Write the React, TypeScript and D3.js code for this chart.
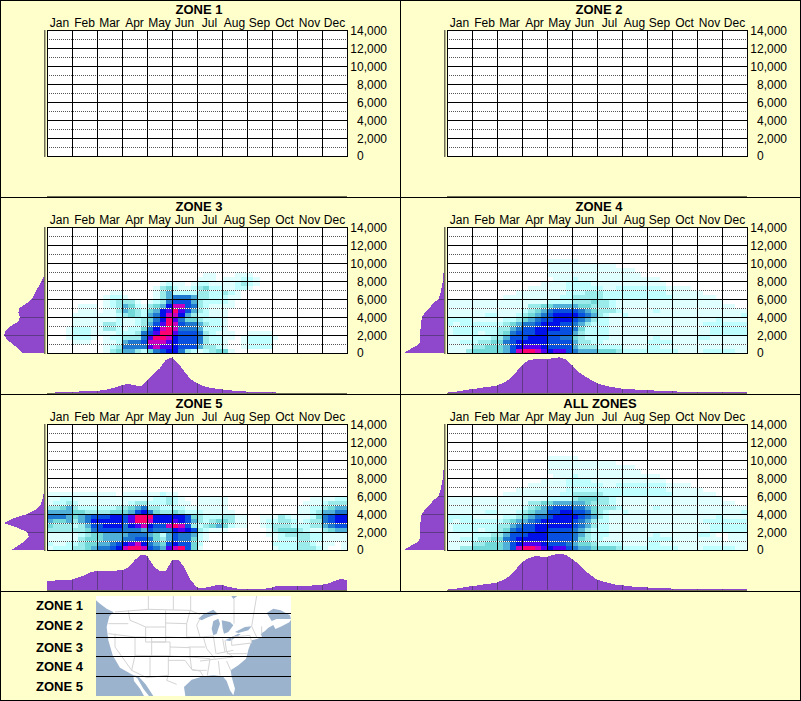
import React from "react";
import * as d3 from "d3";

const months = ["Jan","Feb","Mar","Apr","May","Jun","Jul","Aug","Sep","Oct","Nov","Dec"];
const elevationTicks = [0,2000,4000,6000,8000,10000,12000,14000];
const dottedTicks = [1000,3000,5000,7000,9000,11000,13000];
const levelColors = ["#FFFFFF","#E0FFFF","#BFFFFF","#9CEBEB","#72D8D8","#50B0D8","#1E78D0","#0850E0","#0010E8","#5000F0","#C800C0","#FF0070"];

// Heat levels, one string per 500 ft band from the ground up, 48 quarter-month columns.
const zone3Heat = [
  "000000000 134553246788632123441",
  "000000000 12366669a99877753321 00 12222",
  "0000111001 125667aaa9877763221 00 12222",
  "000122210 12233369bba87776322110 122221",
  "000122211 112223679bb97776321110 0 1111",
  "000122211 332122468aba66652221",
  "000011111 3321123579ba 76653221",
  "000011111 1121123468b9 64432221",
  "00001111 11123432568aa85322111",
  "00000111 0 11354324589b97532111",
  "00000111 0 12354213458aa76321111",
  "000000000 123331012367775322221",
  "000000000 1221000013566653322211",
  "0000000000 11 00000 13522223322321",
  "00000000000000000 1342112342211221",
  "000000000000000000 1211012211112321",
  "000000000000000000000000 1110111221",
  "0000000000000000000000000 11000 111",
];
const zone4Heat = [
  "1113 4444 457a bba9 8997 6555 4443 2222 2222 2111 1222 2211",
  "1111 3344 4578 9998 7777 5333 2222 1111 2211 1111 1111 1111",
  "1122 2334 4678 8888 7777 5332 2111 1111 2222 1111 1111 1111",
  "1111 2223 3577 7888 7766 4322 2211 1111 1211 1111 2211 1111",
  "1222 2122 3467 7788 7777 5322 2211 1111 1111 1111 1122 2222",
  "1222 2222 3356 7788 8877 6422 2211 1111 1111 1111 1122 2222",
  "2122 2222 2345 6678 8877 6532 2211 1111 1111 1111 1222 2222",
  "2222 1111 1223 4567 7888 7653 2211 1111 1111 1111 1112 1111",
  "1111 1122 1112 3456 7888 8765 3211 2111 1111 1111 1111 1112",
  "1111 1111 1111 2345 6777 7654 3332 1111 1211 1111 1111 1111",
  "1111 1111 1111 1334 4555 5443 3321 1111 1111 1111 1111 1100",
  "1111 1111 1111 1111 2222 3334 3321 1111 1111 1111 1111 0000",
  "0000 0000 0111 1111 1122 3333 3222 2222 2222 1111 1110 0000",
  "0000 0000 0001 1111 1112 2233 3222 2222 2221 1111 1000 0000",
  "0000 0000 0000 0111 1112 2222 2112 2222 2221 1110 0000 0000",
  "0000 0000 0000 0001 1112 2221 1111 1111 1110",
  "0000 0000 0000 0000 0111 2111 1111 1111 1100",
  "0000 0000 0000 0000 1111 1111 1111 1110",
  "0000 0000 0000 0000 1111 1111 1111 1100",
  "0000 0000 0000 0000 1111 1111 1110",
  "0000 0000 0000 0000 1111 1",
];
const zone5Heat = [
  "1222 3345 6678 abba 7659 ab74 1000 0000 0000 1222 3332 1001",
  "2112 2344 5567 89a8 6547 8774 2000 0000 0000 2222 3321 1101",
  "1111 1344 4555 6677 6435 7664 2100 0000 0000 1222 3322 1111",
  "1111 1234 4555 5666 5425 7665 2100 0000 0001 1233 3322 1111",
  "3333 3346 7777 6665 7666 8987 3211 1000 0001 3444 3211 3455",
  "4333 2357 7888 689a 877a ba73 2345 4211 0012 3332 2233 5677",
  "5445 3568 8888 79bb a888 9875 3234 4311 0012 2332 1233 6788",
  "6665 4567 7788 79bb b888 8874 3222 3311 0011 1321 1124 6788",
  "5555 4433 3344 4578 6433 4322 2111 1100 0000 0000 1123 5566",
  "3345 3222 2223 3456 3322 2211 1111 1000 0000 0000 1122 3455",
  "1223 2111 1111 1233 2223 2110 1111 1000 0000 0000 0111 2333",
  "1122 1111 1111 1111 1223 2100 1111 1000 0000 0000 0011 1122",
  "1111 1111 1110 1111 1121 1000 0000 0000 0000 0000 0000 0000",
];
const allZonesHeat = [
  "1133 4444 457a bba9 8997 6554 4443 2222 2222 2111 1222 2211",
  "1111 3344 4578 9998 7776 5443 2222 1111 2211 1111 1111 1111",
  "1122 2334 4678 8888 7777 6432 2111 1111 2222 1111 1111 0111",
  "1111 2223 3577 7888 7777 6532 2211 1111 1211 1111 2210 0111",
  "1222 2122 3467 7788 7777 6532 2211 1111 1111 1111 1122 2222",
  "1222 2222 3356 7788 8888 7653 2211 1111 1111 1111 1122 2222",
  "2122 2222 2345 5678 8888 7653 2211 1111 1111 1111 1222 2222",
  "2222 1111 1223 4566 7888 8765 3211 1111 1111 1111 1112 1111",
  "1111 1122 1112 3455 7788 7764 3211 2111 1111 1111 1111 1112",
  "1111 1111 1111 2345 6777 6654 3332 1111 1211 1111 1111 1111",
  "1111 1111 1111 1334 4555 5543 3321 1111 1111 1111 1111 1100",
  "1111 1111 1111 1111 2222 3444 3321 1111 1111 1111 1111 0000",
  "0000 0000 0111 1111 1122 3333 3222 2222 2222 1111 1110 0000",
  "0000 0000 0001 1111 1112 2222 2222 2222 2221 1111 1000 0000",
  "0000 0000 0000 0111 1112 2222 2112 2222 2221 1110 0000 0000",
  "0000 0000 0000 0001 1112 2221 1111 1111 1110",
  "0000 0000 0000 0000 0111 2111 1111 1111 1100",
  "0000 0000 0000 0000 1111 1111 1111 1110",
  "0000 0000 0000 0000 1111 1111 1111 1100",
  "0000 0000 0000 0000 1111 1111 1110",
  "0000 0000 0000 0000 1111 1",
];

// Marginal profiles, percent of each panel's peak.
const zone3ByWeek = [1,1,2,2,3,4,5,5,6,8,11,16,22,25,22,18,35,52,68,92,99,82,59,38,27,19,15,12,10,8,6,5,4,3,3,2,2,1,1,1,1,0,0,0,0,0,0,0,0];
const zone4ByWeek = [1,3,5,8,11,13,16,18,21,28,38,57,77,91,94,94,93,97,99,94,77,59,47,37,27,22,18,15,12,11,10,8,7,7,6,5,5,4,4,4,3,4,4,4,4,4,4,4,4];
const zone5ByWeek = [25,26,27,28,29,35,41,50,53,54,54,54,55,62,82,99,95,68,52,52,82,85,62,27,7,5,9,13,14,9,5,3,2,2,2,4,7,12,12,11,10,11,12,13,15,18,25,31,27];
const allZonesByWeek = [1,3,5,8,11,13,16,18,21,28,38,57,77,88,94,93,92,98,100,98,86,73,55,41,29,23,19,15,13,11,9,8,7,6,5,5,4,4,4,3,3,3,3,3,3,3,3,3,3];
const zone3ByElevation = [55,64,79,93,100,96,83,64,60,64,62,44,30,24,19,12,6,1,0];
const zone4ByElevation = [100,82,62,59,59,59,58,57,55,47,36,28,13,10,7,5,3,2,1,0];
const zone5ByElevation = [81,64,48,38,42,68,100,78,42,20,9,5,2,0];
const allZonesByElevation = [100,82,62,60,60,60,59,58,56,47,36,27,14,10,7,5,3,2,1,0];

const panelNames = ["ZONE 1","ZONE 2","ZONE 3","ZONE 4","ZONE 5","ALL ZONES"];
const panelHeats: string[][] = [[],[],zone3Heat,zone4Heat,zone5Heat,allZonesHeat];
const panelWeeks: number[][] = [[],[],zone3ByWeek,zone4ByWeek,zone5ByWeek,allZonesByWeek];
const panelElevations: number[][] = [[],[],zone3ByElevation,zone4ByElevation,zone5ByElevation,allZonesByElevation];

// Map outline, traced in the map picture's own units.
const landOutline: [number,number][] = [[288,17],[694,17],[700,26],[712,17],[873,17],[873,88],[868,96],[845,108],[826,116],[820,104],[805,112],[795,122],[782,130],[786,140],[770,146],[755,150],[750,165],[745,178],[741,195],[738,205],[715,225],[692,240],[695,260],[705,295],[700,315],[690,300],[680,272],[668,258],[640,255],[610,258],[575,268],[552,290],[556,317],[460,317],[437,282],[415,258],[400,255],[360,232],[338,195],[325,150],[320,110],[328,78],[341,66],[320,55],[300,40],[288,30]];
const bajaOutline: [number,number][] = [[400,256],[412,264],[430,295],[447,317],[432,317],[420,295],[402,272]];
const waterBodies: [number,number][][] = [
  [[800,68],[820,55],[842,60],[870,75],[873,86],[850,86],[830,86],[815,92]],
  [[595,85],[610,72],[640,58],[655,72],[640,75],[620,82],[605,90]],
  [[640,92],[655,85],[660,100],[650,130],[640,135],[635,115]],
  [[665,90],[690,95],[700,105],[685,125],[672,130],[668,115]],
  [[675,150],[715,130],[722,132],[690,152]],
  [[705,125],[735,110],[755,108],[745,120],[715,128]],
];
const borderLines: [number,number][][] = [
  [[345,65],[445,57],[570,60],[600,72]],
  [[445,17],[445,57]],[[520,17],[520,58]],[[572,17],[572,62]],[[702,26],[702,100]],[[770,17],[755,108]],
  [[385,60],[390,90],[415,100],[437,110]],
  [[437,110],[497,110],[497,155],[437,155],[437,110]],
  [[497,60],[497,110]],[[497,98],[560,100]],[[497,140],[570,143]],
  [[510,155],[510,197]],[[510,170],[570,172],[570,200]],
  [[455,155],[510,155]],[[455,140],[455,197],[510,197]],
  [[405,140],[437,140]],[[405,140],[405,195]],[[345,130],[345,170],[395,240]],
  [[405,195],[395,240]],[[405,195],[505,197]],[[450,195],[450,258]],[[395,240],[440,262],[505,255]],
  [[505,197],[505,255],[500,270],[530,282]],[[505,210],[555,210],[575,237],[600,242],[610,258]],
  [[505,197],[570,200],[575,237]],
  [[325,100],[385,100]],[[325,130],[405,140]],
  [[570,62],[560,100],[560,140],[600,140],[590,105],[600,85]],
  [[565,170],[615,170]],[[600,140],[640,137]],[[610,140],[620,175],[645,205]],
  [[640,137],[648,190]],[[668,145],[675,185]],[[675,150],[680,185],[700,200]],
  [[570,200],[630,205]],[[577,240],[620,240]],[[630,205],[622,255]],[[655,212],[660,255]],[[680,212],[692,240]],
  [[600,212],[700,200]],[[680,190],[741,190]],[[650,190],[700,180]],
  [[695,140],[750,135],[755,158],[695,165],[695,140]],[[755,108],[770,140]],[[785,108],[785,132]],
];
const zoneBoundaries = [613.5,637.5,656.5,676.5];
const legendRows: [string,number][] = [["ZONE 1",610],["ZONE 2",630],["ZONE 3",652],["ZONE 4",671],["ZONE 5",691]];

const FONT = "'Liberation Sans', Arial, sans-serif";
const PURPLE = "#8F48CB";
const PURPLE_DARK = "#5F3A86";
const AXIS_GREY = "#6F6F55";

const xScale = d3.scaleLinear().domain([0,48]).range([47,347]);
const yScale = d3.scaleLinear().domain([0,14000]).range([156,30]);
const widthScale = d3.scaleLinear().domain([0,100]).range([0,40]);
const heightScale = d3.scaleLinear().domain([0,100]).range([0,36]);
const colorScale = d3.scaleOrdinal<number,string>().domain(levelColors.map((_,i)=>i)).range(levelColors);
const mapX = d3.scaleLinear().domain([288,873]).range([96,291]);
const mapY = d3.scaleLinear().domain([17,317]).range([596,696]);
const mapLine = d3.line<[number,number]>().x(d=>mapX(d[0])).y(d=>mapY(d[1]));

function Panel({index}:{index:number}) {
  const ox = index%2===0 ? 0 : 400;
  const oy = Math.floor(index/2)*197;
  const heat = panelHeats[index];
  const week = panelWeeks[index];
  const elev = panelElevations[index];
  const baseY = 196;
  const axisX = 44;
  const weekArea = d3.area<number>().x((_,i)=>xScale(i)).y0(baseY).y1(d=>baseY-heightScale(d));
  const elevArea = d3.area<number>().y((_,i)=>yScale(i*500)).x0(axisX).x1(d=>axisX-widthScale(d));
  const cells: React.ReactElement[] = [];
  heat.forEach((row,r)=>{
    const levels = row.replace(/ /g,"").padEnd(48,"0");
    levels.split("").forEach((ch,c)=>{
      const lv = parseInt(ch,16);
      if (lv===0) return;
      const x0 = Math.round(xScale(c)), x1 = Math.round(xScale(c+1));
      const y0 = Math.round(yScale((r+1)*500)), y1 = Math.round(yScale(r*500));
      cells.push(<rect key={`${r}-${c}`} x={x0} y={y0} width={x1-x0} height={y1-y0} fill={colorScale(lv)} />);
    });
  });
  return (
    <g transform={`translate(${ox},${oy})`}>
      <rect x={47} y={30} width={300} height={126} fill="#fff" />
      {cells}
      {dottedTicks.map(t=>(
        <g key={t}>
          <line x1={47} x2={347} y1={yScale(t)+0.5} y2={yScale(t)+0.5} stroke="#fff" />
          <line x1={47} x2={347} y1={yScale(t)+0.5} y2={yScale(t)+0.5} stroke="#555" strokeDasharray="1 1" />
        </g>
      ))}
      {elevationTicks.map(t=>(
        <line key={t} x1={47} x2={348} y1={yScale(t)+0.5} y2={yScale(t)+0.5} stroke="#000" />
      ))}
      {d3.range(13).map(m=>(
        <line key={m} x1={xScale(m*4)+0.5} x2={xScale(m*4)+0.5} y1={30} y2={157} stroke="#000" />
      ))}
      {months.map((m,i)=>(
        <text key={m} x={xScale(i*4+2)} y={27} textAnchor="middle" fontFamily={FONT} fontSize={12} fill="#000">{m}</text>
      ))}
      {elevationTicks.map(t=>(
        t===0
          ? <text key={t} x={357} y={yScale(t)+4} fontFamily={FONT} fontSize={12} fill="#000">0</text>
          : <text key={t} x={387} y={yScale(t)+4.5} textAnchor="end" fontFamily={FONT} fontSize={12} fill="#000">{d3.format(",")(t)}</text>
      ))}
      <text x={index===5?200:199} y={14} textAnchor="middle" fontFamily={FONT} fontSize={13} fontWeight="bold" fill="#000">{panelNames[index]}</text>
      {week.length>0 && <path d={weekArea(week)!} fill={PURPLE} />}
      {elev.length>0 && <path d={elevArea(elev)!} fill={PURPLE} />}
      {week.length>0 && d3.range(1,12).map(m=>(
        <line key={m} x1={xScale(m*4)+0.5} x2={xScale(m*4)+0.5} y1={baseY} y2={baseY-heightScale(week[m*4])} stroke={PURPLE_DARK} />
      ))}
      {elev.length>0 && d3.range(1,7).filter(j=>j*4<elev.length).map(j=>(
        <line key={j} x1={axisX} x2={axisX-widthScale(elev[j*4])} y1={yScale(j*2000)+0.5} y2={yScale(j*2000)+0.5} stroke={PURPLE_DARK} />
      ))}
      <rect x={47} y={baseY} width={300} height={1} fill={AXIS_GREY} />
      <rect x={axisX} y={30} width={1} height={126.5} fill={AXIS_GREY} />
      <rect x={axisX+1} y={30} width={1} height={126.5} fill="#B5B594" />
    </g>
  );
}

export default function App() {
  return (
    <svg width={801} height={701} style={{position:"absolute",left:0,top:0,display:"block"}} shapeRendering="crispEdges">
      <rect x={0} y={0} width={801} height={701} fill="#FFFFCC" />
      {panelNames.map((_,i)=><Panel key={i} index={i} />)}
      <line x1={400.5} x2={400.5} y1={0} y2={591} stroke="#000" />
      {[197,394,591].map(y=><line key={y} x1={0} x2={801} y1={y+0.5} y2={y+0.5} stroke="#000" />)}
      <rect x={0.5} y={0.5} width={800} height={700} fill="none" stroke="#000" />
      <g shapeRendering="auto">
        <rect x={96} y={596} width={195} height={100} fill="#9CB3CE" />
        <path d={mapLine(landOutline)+"Z"} fill="#fff" />
        <path d={mapLine(bajaOutline)+"Z"} fill="#fff" />
        {waterBodies.map((w,i)=><path key={i} d={mapLine(w)+"Z"} fill="#9CB3CE" />)}
        {borderLines.map((b,i)=><path key={i} d={mapLine(b)!} fill="none" stroke="#D4D4D4" strokeWidth={1} />)}
      </g>
      {zoneBoundaries.map(y=><line key={y} x1={96} x2={291} y1={y} y2={y} stroke="#000" />)}
      {legendRows.map(([t,y])=>(
        <text key={t} x={36} y={y} fontFamily={FONT} fontSize={13} fontWeight="bold" fill="#000">{t}</text>
      ))}
    </svg>
  );
}
